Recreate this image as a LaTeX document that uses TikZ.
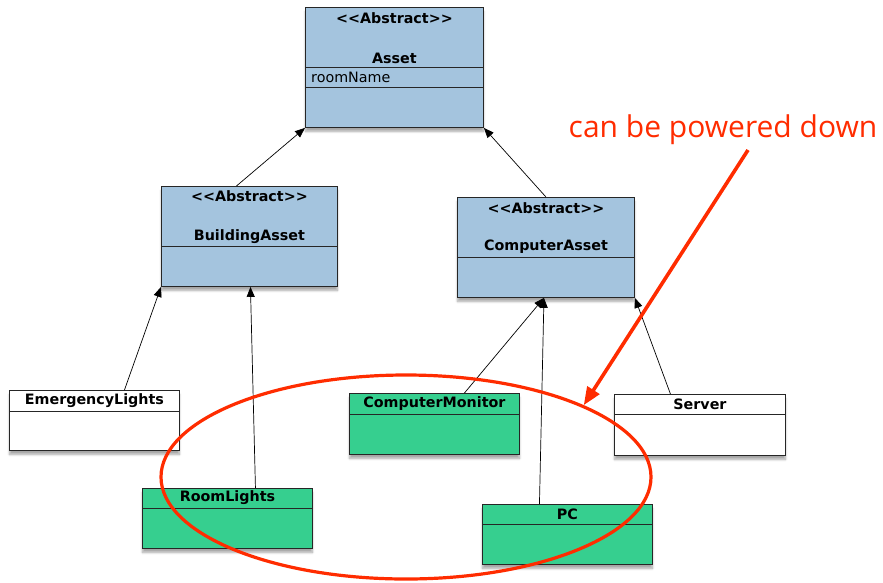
\documentclass[tikz,border=0pt]{standalone}
\usepackage{fontspec}
\setmainfont{DejaVu Sans}
\newfontfamily\classfont{DejaVu Sans}
\newfontfamily\notefont{Open Sans}
\usetikzlibrary{arrows.meta,calc,shapes.geometric,shadows.blur}

\definecolor{absblue}{HTML}{A4C4DE}
\definecolor{concgreen}{HTML}{36CF8F}
\definecolor{notered}{HTML}{FF2C00}

\newcommand\stereo[1]{<\kern0pt<#1>\kern0pt>}

\tikzset{
  cls/.style={draw=black!85, line width=0.9pt, inner sep=0pt, anchor=north west,
    blur shadow={shadow xshift=0pt, shadow yshift=-4pt, shadow blur steps=6, shadow opacity=35}},
  abstractcls/.style={cls, fill=absblue},
  greencls/.style={cls, fill=concgreen},
  plaincls/.style={cls, fill=white},
  ttl/.style={font=\classfont\bfseries\fontsize{14.3}{16}\selectfont, inner sep=0pt},
  attr/.style={font=\classfont\fontsize{14.3}{16}\selectfont, inner sep=0pt, anchor=west},
  divider/.style={draw=black!85, line width=0.9pt},
  gen/.style={-{Triangle[length=10pt,width=8pt]}, line width=0.7pt, black},
  group/.style={ellipse, draw=notered, line width=3.2pt, inner sep=0pt},
  pointer/.style={-{Triangle[length=18pt,width=14pt]}, line width=3.6pt, notered},
}

\begin{document}
\begin{tikzpicture}[x=1pt,y=-1pt]
\useasboundingbox (0,0) rectangle (883,582);

% --- abstract classes ---
\node[abstractcls, minimum width=178pt, minimum height=120pt] (asset) at (305,7) {};
\draw[divider] (asset.west |- 0,67) -- (asset.east |- 0,67);
\draw[divider] (asset.west |- 0,87) -- (asset.east |- 0,87);
\node[ttl] (assetst) at ($(asset.north)+(0,11)$) {\stereo{Abstract}};
\node[ttl] (assetnm) at ($(asset.north)+(0,51)$) {Asset};
\node[attr] (assetat) at ($(asset.north west)+(6,70)$) {roomName};

\node[abstractcls, minimum width=176pt, minimum height=100pt] (bldg) at (161,186) {};
\draw[divider] (bldg.west |- 0,246) -- (bldg.east |- 0,246);
\node[ttl] (bldgst) at ($(bldg.north)+(0,10)$) {\stereo{Abstract}};
\node[ttl] (bldgnm) at ($(bldg.north)+(0,51)$) {BuildingAsset};

\node[abstractcls, minimum width=177pt, minimum height=100pt] (comp) at (457,197) {};
\draw[divider] (comp.west |- 0,257) -- (comp.east |- 0,257);
\node[ttl] (compst) at ($(comp.north)+(0,11)$) {\stereo{Abstract}};
\node[ttl] (compnm) at ($(comp.north)+(0,50)$) {ComputerAsset};

% --- concrete classes ---
\node[plaincls, minimum width=170pt, minimum height=60pt] (emerg) at (9,390) {};
\draw[divider] (emerg.west |- 0,411) -- (emerg.east |- 0,411);
\node[ttl] (emergnm) at ($(emerg.north)+(0,11)$) {EmergencyLights};

\node[greencls, minimum width=170pt, minimum height=61pt] (monitor) at (349,393) {};
\draw[divider] (monitor.west |- 0,414) -- (monitor.east |- 0,414);
\node[ttl] (monitornm) at ($(monitor.north)+(0,11)$) {ComputerMonitor};

\node[plaincls, minimum width=171pt, minimum height=61pt] (server) at (614,394) {};
\draw[divider] (server.west |- 0,414) -- (server.east |- 0,414);
\node[ttl] (servernm) at ($(server.north)+(0,10)$) {Server};

\node[greencls, minimum width=170pt, minimum height=60pt] (room) at (142,488) {};
\draw[divider] (room.west |- 0,508) -- (room.east |- 0,508);
\node[ttl] (roomnm) at ($(room.north)+(0,10)$) {RoomLights};

\node[greencls, minimum width=170pt, minimum height=60pt] (pc) at (482,504) {};
\draw[divider] (pc.west |- 0,524) -- (pc.east |- 0,524);
\node[ttl] (pcnm) at ($(pc.north)+(0,10)$) {PC};

% --- generalisations ---
\draw[gen] ($(bldg.north)+(-13,0)$) -- (asset.south west);
\draw[gen] (comp.north) -- (asset.south east);
\draw[gen] ($(emerg.north)+(30,0)$) -- (bldg.south west);
\draw[gen] ($(room.north)+(28,0)$) -- ($(bldg.south)+(1,0)$);
\draw[gen] ($(monitor.north)+(30,0)$) -- ($(comp.south)+(-2,0)$);
\draw[gen] ($(pc.north)+(-28,0)$) -- ($(comp.south)+(-2,0)$);
\draw[gen] ($(server.north)+(-29.5,0)$) -- (comp.south east);

% --- annotation ---
\node[group, minimum width=490pt, minimum height=204pt] (powered) at (406,477) {};
\node[font=\notefont\fontsize{30}{34}\selectfont, text=notered, inner sep=0pt] (note) at (723,130) {can be powered down};
\coordinate (notetail) at (748,150);
\draw[pointer] (notetail) -- (powered.22);
\end{tikzpicture}
\end{document}
